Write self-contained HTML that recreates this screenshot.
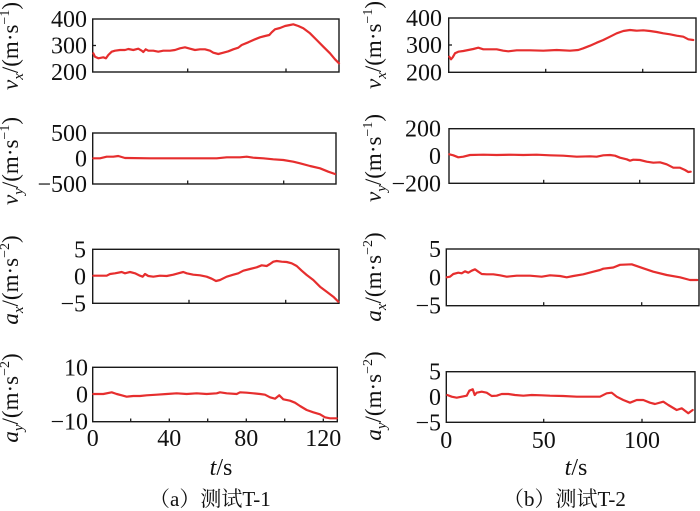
<!DOCTYPE html>
<html><head><meta charset="utf-8"><style>
html,body{margin:0;padding:0;background:#fff;font-family:"Liberation Serif","Noto Serif CJK SC",serif;}
svg{display:block;font-family:"Liberation Serif","Noto Serif CJK SC",serif;}
svg text, svg tspan{font-family:"Liberation Serif","Noto Serif CJK SC",serif !important;fill:#111;}
.tk{font-size:24px;}
.yl{font-size:23px;}
.box{fill:none;stroke:#1a1a1a;stroke-width:1.4;}
.tick{stroke:#1a1a1a;stroke-width:1.3;}
.ln{fill:none;stroke:#e62e2e;stroke-width:2.2;stroke-linejoin:round;stroke-linecap:round;}
</style></head><body>
<svg width="700" height="511" viewBox="0 0 700 511" xmlns="http://www.w3.org/2000/svg" font-family="Liberation Serif, Noto Serif CJK SC, serif">
<!-- ========== LEFT PANEL ========== -->
<!-- L1 vx -->
<rect class="box" x="92.7" y="19" width="246.3" height="53"/>
<line class="tick" x1="187.7" y1="72" x2="187.7" y2="68.5"/>
<line class="tick" x1="286" y1="72" x2="286" y2="68.5"/>
<line class="tick" x1="92.7" y1="45.5" x2="96" y2="45.5"/>
<text class="tk" font-family="Liberation Serif, serif" x="87" y="27" text-anchor="end">400</text>
<text class="tk" font-family="Liberation Serif, serif" x="87" y="53.5" text-anchor="end">300</text>
<text class="tk" font-family="Liberation Serif, serif" x="87" y="80" text-anchor="end">200</text>
<text class="yl" font-family="Liberation Serif, serif" transform="translate(18,46) rotate(-90)" text-anchor="middle"><tspan font-style="italic">v</tspan><tspan font-size="15" dy="5" font-style="italic">x</tspan><tspan dy="-5">/(m·s</tspan><tspan font-size="14" dy="-9">−1</tspan><tspan dy="9">)</tspan></text>
<polyline class="ln" points="93.3,53.3 95,56.7 98.3,58.3 103.3,57.3 106,58.3 108.3,55 111.7,51.7 115,50.7 120,50 125,50 128.3,49 133.3,50 138.3,48.7 141.7,50.7 143.3,52 145.7,49.3 148.3,50.7 153.3,50.7 158.3,51.7 163.3,50.7 170,50.7 175,50 180,48.3 185,47.3 190,48.7 195,50 200,49.3 205,49.3 210,50.7 213.3,52.7 218.3,54 223.3,52.7 228.3,51.3 233.3,49.3 238.3,47.7 241.7,45 248.3,42.3 255,39.3 260,37.3 265,36 269.3,35 271.7,32.3 275,29.3 280,28 285,26 290,25 293.3,24.3 298.3,26 303.3,28.3 310,33.3 316.7,40 323.3,46.7 330,53.3 335,59.3 339,63.3"/>

<!-- L2 vy -->
<rect class="box" x="92.7" y="133" width="243.3" height="51"/>
<line class="tick" x1="187.7" y1="184" x2="187.7" y2="180.5"/>
<line class="tick" x1="283.7" y1="184" x2="283.7" y2="180.5"/>
<text class="tk" font-family="Liberation Serif, serif" x="87" y="141" text-anchor="end">500</text>
<text class="tk" font-family="Liberation Serif, serif" x="87" y="166.5" text-anchor="end">0</text>
<text class="tk" font-family="Liberation Serif, serif" x="87" y="192" text-anchor="end">−500</text>
<text class="yl" font-family="Liberation Serif, serif" transform="translate(18,161) rotate(-90)" text-anchor="middle"><tspan font-style="italic">v</tspan><tspan font-size="15" dy="5" font-style="italic">y</tspan><tspan dy="-5">/(m·s</tspan><tspan font-size="14" dy="-9">−1</tspan><tspan dy="9">)</tspan></text>
<polyline class="ln" points="93.3,158.3 100,158.3 106.7,156.7 113.3,156.7 118.3,156 125,158 150,158.3 183.3,158.3 216.7,158.3 226.7,157.3 240,157.3 246.7,156.7 253.3,157.7 263.3,158.3 273.3,159.3 283.3,160 293.3,161.7 300,163.3 310,166 320,168.3 328.3,171.7 335,174"/>

<!-- L3 ax -->
<rect class="box" x="92.7" y="249.3" width="246.3" height="54"/>
<line class="tick" x1="189" y1="303.3" x2="189" y2="299.8"/>
<line class="tick" x1="285.7" y1="303.3" x2="285.7" y2="299.8"/>
<text class="tk" font-family="Liberation Serif, serif" x="86" y="257.3" text-anchor="end">5</text>
<text class="tk" font-family="Liberation Serif, serif" x="86" y="284.3" text-anchor="end">0</text>
<text class="tk" font-family="Liberation Serif, serif" x="86" y="311.3" text-anchor="end">−5</text>
<text class="yl" font-family="Liberation Serif, serif" transform="translate(18,280) rotate(-90)" text-anchor="middle"><tspan font-style="italic">a</tspan><tspan font-size="15" dy="5" font-style="italic">x</tspan><tspan dy="-5">/(m·s</tspan><tspan font-size="14" dy="-9">−2</tspan><tspan dy="9">)</tspan></text>
<polyline class="ln" points="93.3,275.7 106.7,275.7 110,274 115,273.3 121.7,272 125,273.3 130,272 135,273.3 140,275.7 142.7,276.7 145,274 148.3,276 153.3,276.7 160,275.7 166.7,276 173.3,274.7 178.3,273.3 183.3,272 186.7,273.3 193.3,274.7 200,275.3 206.7,276.7 211.7,278.7 216,281 220,280 226.7,276.7 233.3,274.7 238.3,273.3 243.3,270.7 250,269 256.7,267.3 261.7,265.3 266.7,266 270,264 273.3,261.7 276.7,261 281.7,261.7 286.7,262 291.7,263.3 296.7,266 301.7,270.7 306.7,275 313.3,280 320,286.7 326.7,291.7 333.3,296.7 338.3,301.7"/>

<!-- L4 ay -->
<rect class="box" x="92.7" y="367.3" width="244.6" height="54.4"/>
<line class="tick" x1="130.7" y1="421.7" x2="130.7" y2="418.5"/>
<line class="tick" x1="169.3" y1="421.7" x2="169.3" y2="418.5"/>
<line class="tick" x1="207.7" y1="421.7" x2="207.7" y2="418.5"/>
<line class="tick" x1="246.3" y1="421.7" x2="246.3" y2="418.5"/>
<line class="tick" x1="284.7" y1="421.7" x2="284.7" y2="418.5"/>
<line class="tick" x1="323.3" y1="421.7" x2="323.3" y2="418.5"/>
<text class="tk" font-family="Liberation Serif, serif" x="88" y="375.3" text-anchor="end">10</text>
<text class="tk" font-family="Liberation Serif, serif" x="88" y="402.5" text-anchor="end">0</text>
<text class="tk" font-family="Liberation Serif, serif" x="88" y="429.7" text-anchor="end">−10</text>
<text class="yl" font-family="Liberation Serif, serif" transform="translate(18,398) rotate(-90)" text-anchor="middle"><tspan font-style="italic">a</tspan><tspan font-size="15" dy="5" font-style="italic">y</tspan><tspan dy="-5">/(m·s</tspan><tspan font-size="14" dy="-9">−2</tspan><tspan dy="9">)</tspan></text>
<polyline class="ln" points="93.3,394 103.3,394 111.7,392.3 116.7,394 121.7,395.3 126.7,396.7 133.3,396 140,396 146.7,395.3 156.7,394.7 166.7,394 176.7,393.3 186.7,394 196.7,393.3 206.7,394 216.7,393.3 220,392.3 226.7,393.3 236.7,394 240,392.3 246.7,392.7 253.3,393.3 260,394 265,394.7 270,397.3 275,398.7 279.3,395.3 283.3,399.3 290,400.7 295,402.7 300,406 306.7,410 313.3,412.3 320,414.3 325,417.3 330,418.3 336.7,418.3"/>
<text class="tk" font-family="Liberation Serif, serif" x="92.7" y="446" text-anchor="middle">0</text>
<text class="tk" font-family="Liberation Serif, serif" x="169.3" y="446" text-anchor="middle">40</text>
<text class="tk" font-family="Liberation Serif, serif" x="246.3" y="446" text-anchor="middle">80</text>
<text class="tk" font-family="Liberation Serif, serif" x="323.3" y="446" text-anchor="middle">120</text>
<text class="tk" font-family="Liberation Serif, serif" x="221" y="475" text-anchor="middle" font-size="23"><tspan font-style="italic">t</tspan>/s</text>
<text x="149" y="506" font-size="21" font-family="Liberation Serif, Noto Serif CJK SC, serif">（a）测试T-1</text>

<!-- ========== RIGHT PANEL ========== -->
<!-- R1 vx -->
<rect class="box" x="448.7" y="18" width="247.3" height="54.3"/>
<line class="tick" x1="545.7" y1="72.3" x2="545.7" y2="68.8"/>
<line class="tick" x1="642.7" y1="72.3" x2="642.7" y2="68.8"/>
<line class="tick" x1="448.7" y1="45" x2="452" y2="45"/>
<text class="tk" font-family="Liberation Serif, serif" x="442" y="26" text-anchor="end">400</text>
<text class="tk" font-family="Liberation Serif, serif" x="442" y="53" text-anchor="end">300</text>
<text class="tk" font-family="Liberation Serif, serif" x="442" y="80.3" text-anchor="end">200</text>
<text class="yl" font-family="Liberation Serif, serif" transform="translate(381,45) rotate(-90)" text-anchor="middle"><tspan font-style="italic">v</tspan><tspan font-size="15" dy="5" font-style="italic">x</tspan><tspan dy="-5">/(m·s</tspan><tspan font-size="14" dy="-9">−1</tspan><tspan dy="9">)</tspan></text>
<polyline class="ln" points="449.3,56.7 451,59.3 452.7,57.3 455,53.3 458.3,51.7 463.3,51 468.3,50 473.3,49 478.3,47.7 483.3,49.3 490,49.3 496.7,49.3 503.3,50.7 508.3,51.3 516.7,50.3 530,50.3 543.3,50.7 556.7,50 570,50.7 578.3,50 583.3,48.3 590,45.7 596.7,42.7 603.3,40 610,36.7 616.7,33.3 623.3,31 630,30 636.7,30.7 643.3,30.3 650,31 656.7,32 663.3,33.3 670,34.3 676.7,35.7 683.3,36.7 688.3,39.3 693.3,40"/>

<!-- R2 vy -->
<rect class="box" x="449" y="128.7" width="245" height="54.6"/>
<line class="tick" x1="543.7" y1="183.3" x2="543.7" y2="179.8"/>
<line class="tick" x1="639.7" y1="183.3" x2="639.7" y2="179.8"/>
<text class="tk" font-family="Liberation Serif, serif" x="441" y="136.7" text-anchor="end">200</text>
<text class="tk" font-family="Liberation Serif, serif" x="441" y="164" text-anchor="end">0</text>
<text class="tk" font-family="Liberation Serif, serif" x="441" y="191.3" text-anchor="end">−200</text>
<text class="yl" font-family="Liberation Serif, serif" transform="translate(381,158) rotate(-90)" text-anchor="middle"><tspan font-style="italic">v</tspan><tspan font-size="15" dy="5" font-style="italic">y</tspan><tspan dy="-5">/(m·s</tspan><tspan font-size="14" dy="-9">−1</tspan><tspan dy="9">)</tspan></text>
<polyline class="ln" points="449.3,154.3 453.3,155.3 458.3,157.3 463.3,156.7 470,155 483.3,154.7 496.7,155 510,154.7 523.3,155 536.7,154.7 550,155.3 563.3,155.7 576.7,156.7 590,156.3 596.7,156.7 603.3,155.3 610,155 615,155.7 620,157.7 626.7,159.3 630,160.7 633.3,159.7 640,160 646.7,161.7 653.3,162.7 660,162.3 666.7,164.3 673.3,167.7 680,167.7 685,170 688.3,172 690.7,171.7"/>

<!-- R3 ax -->
<rect class="box" x="446.3" y="249" width="252.7" height="56.7"/>
<line class="tick" x1="543.7" y1="305.7" x2="543.7" y2="302.2"/>
<line class="tick" x1="641.7" y1="305.7" x2="641.7" y2="302.2"/>
<text class="tk" font-family="Liberation Serif, serif" x="441" y="257" text-anchor="end">5</text>
<text class="tk" font-family="Liberation Serif, serif" x="441" y="285.3" text-anchor="end">0</text>
<text class="tk" font-family="Liberation Serif, serif" x="441" y="313.7" text-anchor="end">−5</text>
<text class="yl" font-family="Liberation Serif, serif" transform="translate(381,277) rotate(-90)" text-anchor="middle"><tspan font-style="italic">a</tspan><tspan font-size="15" dy="5" font-style="italic">x</tspan><tspan dy="-5">/(m·s</tspan><tspan font-size="14" dy="-9">−2</tspan><tspan dy="9">)</tspan></text>
<polyline class="ln" points="446.7,277.3 450,276.7 453.3,274 458.3,272.7 461.7,273.3 465,271.3 468.3,272.7 471.7,270.7 475,269.3 478.3,271.7 481.7,274 486.7,274.3 493.3,274.3 500,275.3 506.7,276.7 516.7,275.7 530,275.7 541.7,276.7 550,275.3 560,276 566.7,277.3 573.3,276 583.3,274.3 593.3,271.7 600,270 603.3,268.7 613.3,267.5 620,264.8 631.7,264.3 643.3,268.3 653.3,271.7 666.7,275 680,277.3 690,280 697.3,280"/>

<!-- R4 ay -->
<rect class="box" x="446.3" y="371.7" width="248.7" height="50.6"/>
<line class="tick" x1="543.7" y1="422.3" x2="543.7" y2="418.8"/>
<line class="tick" x1="642" y1="422.3" x2="642" y2="418.8"/>
<text class="tk" font-family="Liberation Serif, serif" x="441" y="379.7" text-anchor="end">5</text>
<text class="tk" font-family="Liberation Serif, serif" x="441" y="405" text-anchor="end">0</text>
<text class="tk" font-family="Liberation Serif, serif" x="441" y="430.3" text-anchor="end">−5</text>
<text class="yl" font-family="Liberation Serif, serif" transform="translate(381,396) rotate(-90)" text-anchor="middle"><tspan font-style="italic">a</tspan><tspan font-size="15" dy="5" font-style="italic">y</tspan><tspan dy="-5">/(m·s</tspan><tspan font-size="14" dy="-9">−2</tspan><tspan dy="9">)</tspan></text>
<polyline class="ln" points="447.3,395 451.7,396.7 456.7,397.7 461.7,396.7 466.7,395.7 469.3,390.7 472.7,389.3 474.7,395 476.7,392.7 481.7,391.7 486.7,392.7 491.7,396 496.7,395.7 501.7,394 508.3,394 515,395 523.3,395.7 531.7,395 541.7,395.3 550,395.7 563.3,396 576.7,396.7 590,396.7 600,396.7 606.7,393.3 611.7,392.7 616.7,396.7 623.3,400 630,402.7 636.7,400 643.3,400 650,402.7 655,404 663.3,401.7 668.3,405 676.7,410 681.7,408.3 688.3,413.3 692.7,410"/>
<text class="tk" font-family="Liberation Serif, serif" x="446.3" y="448" text-anchor="middle">0</text>
<text class="tk" font-family="Liberation Serif, serif" x="543.7" y="448" text-anchor="middle">50</text>
<text class="tk" font-family="Liberation Serif, serif" x="642" y="448" text-anchor="middle">100</text>
<text class="tk" font-family="Liberation Serif, serif" x="576" y="475" text-anchor="middle" font-size="23"><tspan font-style="italic">t</tspan>/s</text>
<text x="503" y="506" font-size="21" font-family="Liberation Serif, Noto Serif CJK SC, serif">（b）测试T-2</text>
</svg>
</body></html>
